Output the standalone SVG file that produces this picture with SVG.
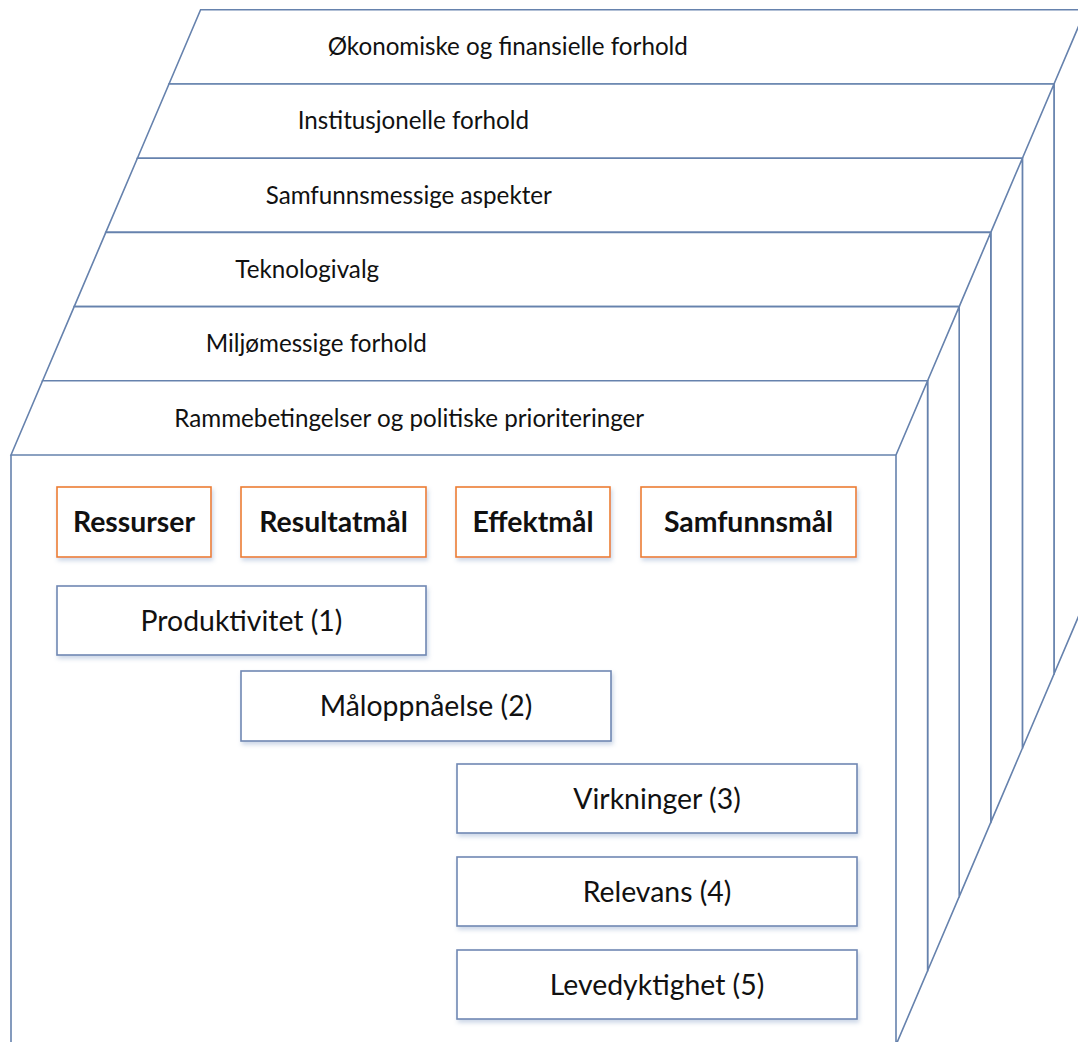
<svg xmlns="http://www.w3.org/2000/svg" width="1078" height="1042" viewBox="0 0 1078 1042">
<defs>
<filter id="sh" x="-10%" y="-20%" width="130%" height="160%">
<feDropShadow dx="1.5" dy="3" stdDeviation="2" flood-color="#8fa8cc" flood-opacity="0.45"/>
</filter>
<style>
.cube{fill:#fff;stroke:#6682ad;stroke-width:1.6;stroke-linejoin:miter}
.strip{font-family:Lato,"Liberation Sans",sans-serif;font-size:24.2px;fill:#111}
.ob{fill:#fff;stroke:#ed7d31;stroke-width:1.6;filter:url(#sh)}
.bb{fill:#fff;stroke:#7088b3;stroke-width:1.6;filter:url(#sh)}
.bt{font-family:Lato,"Liberation Sans",sans-serif;font-size:28.4px;font-weight:bold;fill:#111;text-anchor:middle}
.nt{font-family:Lato,"Liberation Sans",sans-serif;font-size:28.4px;fill:#111;text-anchor:middle}
</style>
</defs>
<rect width="1078" height="1042" fill="#fff"/>
<g id="connectors"></g>
<g id="layers">
<g id="cube5"><path class="cube" d="M169,84 L1054,84 L1054,674 L169,674 Z M169,84 L200.6,9.8 L1085.6,9.8 L1054,84 Z M1054,84 L1085.6,9.8 L1085.6,599.8 L1054,674 Z"/>
<text class="strip" x="327.7" y="55">Økonomiske og finansielle forhold</text></g>
<g id="cube4"><path class="cube" d="M137.4,158.2 L1022.4,158.2 L1022.4,748.2 L137.4,748.2 Z M137.4,158.2 L169,84 L1054,84 L1022.4,158.2 Z M1022.4,158.2 L1054,84 L1054,674 L1022.4,748.2 Z"/>
<text class="strip" x="297.7" y="129.3">Institusjonelle forhold</text></g>
<g id="cube3"><path class="cube" d="M105.8,232.4 L990.8,232.4 L990.8,822.4 L105.8,822.4 Z M105.8,232.4 L137.4,158.2 L1022.4,158.2 L990.8,232.4 Z M990.8,232.4 L1022.4,158.2 L1022.4,748.2 L990.8,822.4 Z"/>
<text class="strip" x="265.7" y="203.5">Samfunnsmessige aspekter</text></g>
<g id="cube2"><path class="cube" d="M74.2,306.6 L959.2,306.6 L959.2,896.6 L74.2,896.6 Z M74.2,306.6 L105.8,232.4 L990.8,232.4 L959.2,306.6 Z M959.2,306.6 L990.8,232.4 L990.8,822.4 L959.2,896.6 Z"/>
<text class="strip" x="235.3" y="277.7">Teknologivalg</text></g>
<g id="cube1"><path class="cube" d="M42.6,380.8 L927.6,380.8 L927.6,970.8 L42.6,970.8 Z M42.6,380.8 L74.2,306.6 L959.2,306.6 L927.6,380.8 Z M927.6,380.8 L959.2,306.6 L959.2,896.6 L927.6,970.8 Z"/>
<text class="strip" x="205.7" y="351.9">Miljømessige forhold</text></g>
<g id="cube0"><path class="cube" d="M11,455 L896,455 L896,1045 L11,1045 Z M11,455 L42.6,380.8 L927.6,380.8 L896,455 Z M896,455 L927.6,380.8 L927.6,970.8 L896,1045 Z"/>
<text class="strip" x="174.3" y="426.5">Rammebetingelser og politiske prioriteringer</text></g>
</g>
<g id="ressurser"><rect class="ob" x="57" y="487" width="154" height="70"/><text class="bt" x="134" y="532">Ressurser</text></g>
<g id="resultatmal"><rect class="ob" x="241" y="487" width="185" height="70"/><text class="bt" x="333.5" y="532">Resultatmål</text></g>
<g id="effektmal"><rect class="ob" x="456" y="487" width="154" height="70"/><text class="bt" x="533" y="532">Effektmål</text></g>
<g id="samfunnsmal"><rect class="ob" x="641" y="487" width="215" height="70"/><text class="bt" x="748.5" y="532">Samfunnsmål</text></g>
<g id="produktivitet"><rect class="bb" x="57" y="586" width="369" height="69"/><text class="nt" x="241.5" y="631">Produktivitet (1)</text></g>
<g id="maloppnaelse"><rect class="bb" x="241" y="671" width="370" height="70"/><text class="nt" x="426" y="716">Måloppnåelse (2)</text></g>
<g id="virkninger"><rect class="bb" x="457" y="764" width="400" height="69"/><text class="nt" x="657" y="808.5">Virkninger (3)</text></g>
<g id="relevans"><rect class="bb" x="457" y="857" width="400" height="69"/><text class="nt" x="657" y="901.5">Relevans (4)</text></g>
<g id="levedyktighet"><rect class="bb" x="457" y="950" width="400" height="69"/><text class="nt" x="657" y="994.5">Levedyktighet (5)</text></g>
</svg>
